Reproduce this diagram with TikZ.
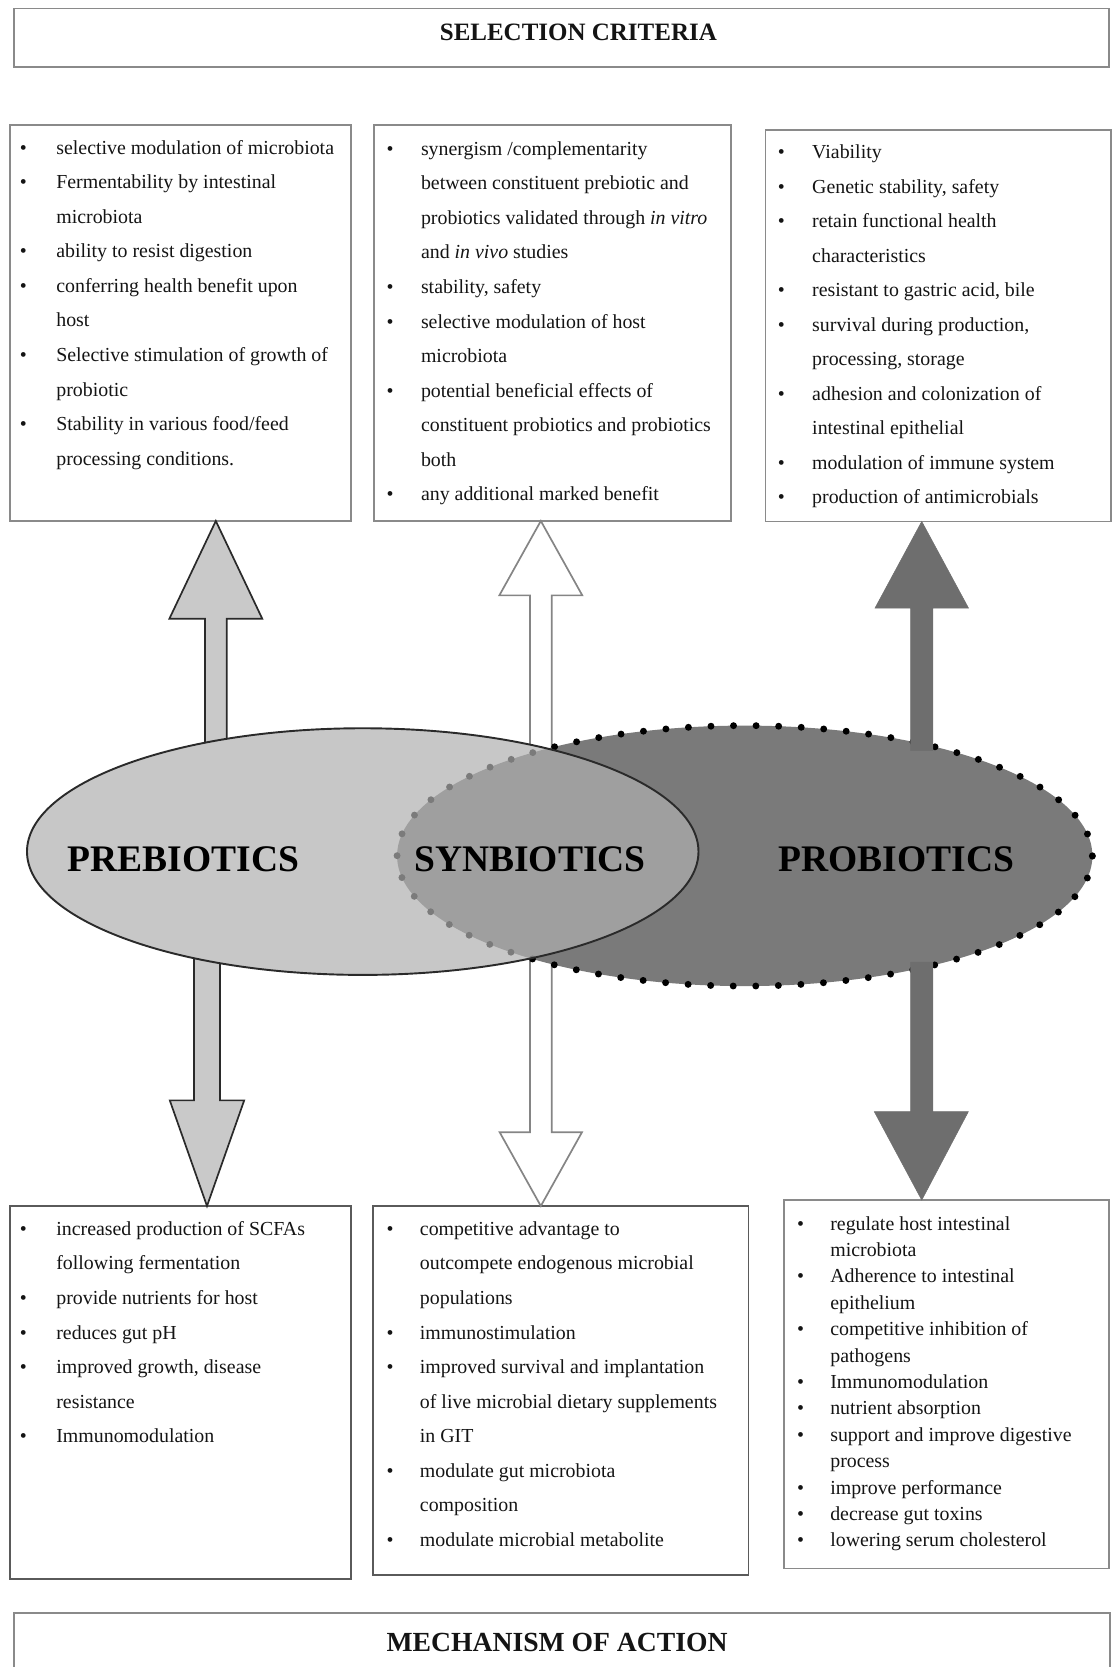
\documentclass[tikz,border=0pt]{standalone}
\usepackage{fontspec}
\setmainfont{Liberation Serif}
\usetikzlibrary{shapes.geometric}
\definecolor{boxline}{HTML}{8A8A8A}
\definecolor{boxlinedark}{HTML}{5A5A5A}
\definecolor{lightfill}{HTML}{C9C9C9}
\definecolor{prefill}{HTML}{B0B0B0}
\definecolor{darkfill}{HTML}{7A7A7A}
\definecolor{arrowdark}{HTML}{6E6E6E}
\definecolor{outlinedark}{HTML}{2A2A2A}
\definecolor{whiteline}{HTML}{858585}
\definecolor{txt}{HTML}{141414}
\newcommand{\blt}{\textbullet}
\newcommand{\listfont}{\fontsize{18.7}{32.5}\selectfont}
\newcommand{\listfonttight}{\fontsize{18.7}{24.83}\selectfont}
\begin{document}
\begin{tikzpicture}[x=1pt,y=-1pt,
  cbox/.style={draw=boxline, line width=1.8pt, inner sep=0pt, outer sep=0pt, anchor=north west},
  dbox/.style={cbox, draw=boxlinedark},
  listtext/.style={inner sep=0pt, outer sep=0pt, anchor=north west, text=txt, font=\listfont},
  heading/.style={inner sep=0pt, text=txt},
  biglabel/.style={inner sep=0pt, text=black, font=\bfseries\fontsize{35.3}{40}\selectfont},
  lgarrow/.style={fill=lightfill, draw=outlinedark, line width=1.6pt},
  wharrow/.style={fill=white, draw=whiteline, line width=1.6pt},
  dkarrow/.style={fill=arrowdark, draw=arrowdark, line width=0.5pt},
  bubble/.style={ellipse, inner sep=0pt, outer sep=0pt}
]
\useasboundingbox (0,0) rectangle (1046,1568);

% headers
\node[cbox, minimum width=1030pt, minimum height=55pt] (selhdr) at (13,8) {};
\node[heading, font=\bfseries\fontsize{23.5}{28}\selectfont] (seltxt) at (544,30.5) {SELECTION CRITERIA};
\node[cbox, minimum width=1031pt, minimum height=70pt] (mechhdr) at (13,1517.5) {};
\node[heading, font=\bfseries\fontsize{26}{30}\selectfont] (mechtxt) at (524,1545) {MECHANISM OF ACTION};

% top boxes
\node[cbox, minimum width=321pt, minimum height=372pt] (tl) at (9,118) {};
\node[cbox, minimum width=336pt, minimum height=372pt] (tm) at (352,118) {};
\node[cbox, minimum width=325pt, minimum height=368.5pt] (tr) at (720,122) {};

% bottom boxes
\node[dbox, minimum width=321pt, minimum height=351pt] (bl) at (9,1134.4) {};
\node[dbox, minimum width=353pt, minimum height=347pt] (bm) at (351,1134.4) {};
\node[cbox, minimum width=306pt, minimum height=346.5pt] (br) at (737,1128.8) {};

% texts
\node[listtext] (tltxt) at (18.7,122.3) {\begin{tabular}{@{}p{34.3pt}@{}l@{}}
\blt & selective modulation of microbiota\\
\blt & Fermentability by intestinal\\
 & microbiota\\
\blt & ability to resist digestion\\
\blt & conferring health benefit upon\\
 & host\\
\blt & Selective stimulation of growth of\\
 & probiotic\\
\blt & Stability in various food/feed\\
 & processing conditions.
\end{tabular}};

\node[listtext] (tmtxt) at (363.7,123.3) {\begin{tabular}{@{}p{32.3pt}@{}l@{}}
\blt & synergism /complementarity\\
 & between constituent prebiotic and\\
 & probiotics validated through \textit{in vitro}\\
 & and \textit{in vivo} studies\\
\blt & stability, safety\\
\blt & selective modulation of host\\
 & microbiota\\
\blt & potential beneficial effects of\\
 & constituent probiotics and probiotics\\
 & both\\
\blt & any additional marked benefit
\end{tabular}};

\node[listtext] (trtxt) at (731.7,126.3) {\begin{tabular}{@{}p{32.3pt}@{}l@{}}
\blt & Viability\\
\blt & Genetic stability, safety\\
\blt & retain functional health\\
 & characteristics\\
\blt & resistant to gastric acid, bile\\
\blt & survival during production,\\
 & processing, storage\\
\blt & adhesion and colonization of\\
 & intestinal epithelial\\
\blt & modulation of immune system\\
\blt & production of antimicrobials
\end{tabular}};

\node[listtext] (bltxt) at (18.7,1139.3) {\begin{tabular}{@{}p{34.3pt}@{}l@{}}
\blt & increased production of SCFAs\\
 & following fermentation\\
\blt & provide nutrients for host\\
\blt & reduces gut pH\\
\blt & improved growth, disease\\
 & resistance\\
\blt & Immunomodulation
\end{tabular}};

\node[listtext] (bmtxt) at (363.7,1139.3) {\begin{tabular}{@{}p{31.3pt}@{}l@{}}
\blt & competitive advantage to\\
 & outcompete endogenous microbial\\
 & populations\\
\blt & immunostimulation\\
\blt & improved survival and implantation\\
 & of live microbial dietary supplements\\
 & in GIT\\
\blt & modulate gut microbiota\\
 & composition\\
\blt & modulate microbial metabolite
\end{tabular}};

\node[listtext, font=\listfonttight] (brtxt) at (749.7,1139.6) {\begin{tabular}{@{}p{31.3pt}@{}l@{}}
\blt & regulate host intestinal\\
 & microbiota\\
\blt & Adherence to intestinal\\
 & epithelium\\
\blt & competitive inhibition of\\
 & pathogens\\
\blt & Immunomodulation\\
\blt & nutrient absorption\\
\blt & support and improve digestive\\
 & process\\
\blt & improve performance\\
\blt & decrease gut toxins\\
\blt & lowering serum cholesterol
\end{tabular}};

% arrow axes
\coordinate (cLu) at (203,0);
\coordinate (cLd) at (194.7,0);
\coordinate (cM) at (508.7,0);
\coordinate (cR) at (867,0);

% left and middle arrows (behind the ellipses)
\draw[lgarrow] (192.8,720) -- (192.8,582) -- (159.3,582) -- (cLu |- tl.south) -- (246.7,582) -- (213.2,582) -- (213.2,720) -- cycle;
\draw[lgarrow] (182.5,880) -- (182.5,1035) -- (159.7,1035) -- (cLd |- bl.north) -- (229.7,1035) -- (206.9,1035) -- (206.9,880) -- cycle;
\draw[wharrow] (498.5,725) -- (498.5,560) -- (469.7,560) -- (cM |- tm.south) -- (547.7,560) -- (518.9,560) -- (518.9,725) -- cycle;
\draw[wharrow] (498.5,885) -- (498.5,1065) -- (470,1065) -- (cM |- bm.north) -- (547.4,1065) -- (518.9,1065) -- (518.9,885) -- cycle;

% ellipses
\node[bubble, fill=white, minimum width=631.6pt, minimum height=232pt] (under) at (341.2,801) {};
\node[bubble, fill=darkfill, draw=black, line width=6.5pt, line cap=round, dash pattern=on 0pt off 21.23pt, minimum width=654pt, minimum height=245pt] (pro) at (700.5,805) {};
\node[bubble, fill=prefill, fill opacity=0.7, draw=outlinedark, line width=1.8pt, minimum width=631.6pt, minimum height=232pt] (pre) at (341.2,801) {};

% right arrows (over the dark ellipse)
\draw[dkarrow] (856.6,706) -- (856.6,572) -- (823,572) -- (cR |- tr.south) -- (911,572) -- (877.4,572) -- (877.4,706) -- cycle;
\draw[dkarrow] (856.6,905) -- (856.6,1045.7) -- (822.4,1045.7) -- (cR |- br.north) -- (910.8,1045.7) -- (877.4,1045.7) -- (877.4,905) -- cycle;

% labels
\node[biglabel] (prelbl) at (172.5,808) {PREBIOTICS};
\node[biglabel] (synlbl) at (498.5,808) {SYNBIOTICS};
\node[biglabel] (prolbl) at (843,808) {PROBIOTICS};
\end{tikzpicture}
\end{document}
